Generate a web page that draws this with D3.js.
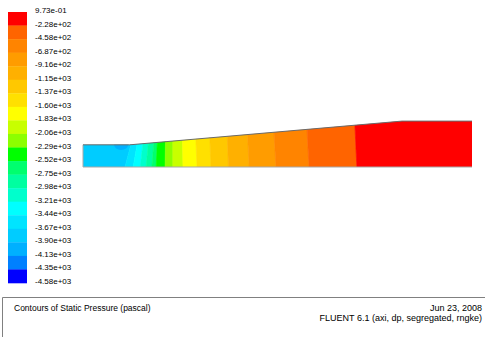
<!DOCTYPE html>
<html>
<head>
<meta charset="utf-8">
<script src="https://cdn.jsdelivr.net/npm/d3@7"></script>
<style>
  html, body { margin: 0; padding: 0; background: #fff; }
  svg { display: block; }
  text { font-family: "Liberation Sans", Arial, sans-serif; fill: #000; }
</style>
</head>
<body>
<svg id="chart" width="485" height="337"></svg>
<script>
// Contour levels of static pressure (pascal), top of the colour bar first
const levels = [0.973, -228, -458, -687, -916, -1150, -1370, -1600, -1830, -2060,
  -2290, -2520, -2750, -2980, -3210, -3440, -3670, -3900, -4130, -4350, -4580];
const levelLabels = ["9.73e-01", "-2.28e+02", "-4.58e+02", "-6.87e+02", "-9.16e+02",
  "-1.15e+03", "-1.37e+03", "-1.60e+03", "-1.83e+03", "-2.06e+03", "-2.29e+03",
  "-2.52e+03", "-2.75e+03", "-2.98e+03", "-3.21e+03", "-3.44e+03", "-3.67e+03",
  "-3.90e+03", "-4.13e+03", "-4.35e+03", "-4.58e+03"];
// One colour per band between consecutive levels
const bandColors = ["#ff0000", "#ff6400", "#ff8400", "#ff9c00", "#ffb000", "#ffc800",
  "#ffe000", "#ffff00", "#c8ff00", "#8cff00", "#00ff00", "#00ff6e", "#00ffa0",
  "#00ffcc", "#00ffff", "#00e4ff", "#00ccff", "#00b0ff", "#0080ff", "#0000ff"];

// Axisymmetric duct wall (axial position x and radius r, mm)
const wallX = [0, 120, 820, 1000];
const wallR = [57, 57, 118, 118];

// Isobars crossing the duct: level, axial position on the axis and on the wall
const isobarLevels = [-3670, -3440, -3210, -2980, -2750, -2520, -2290, -2060,
  -1830, -1600, -1370, -1150, -916, -687, -458, -228];
const isobarAxisX = [108, 129, 147, 162, 177, 188, 211, 231, 257, 293, 329, 374, 427, 496, 581, 704];
const isobarWallX = [123, 139, 154, 168, 182, 191, 212, 231, 256, 290, 326, 371, 423, 491, 576, 699];

// Low-pressure pocket at the start of the diffuser wall
const pocket = { x: 98, r: 57, dx: 18, dr: 13, p: -3950 };

const svg = d3.select("#chart");

const x = d3.scaleLinear().domain([0, 1000]).range([83, 472]);
const r = d3.scaleLinear().domain([0, 118]).range([167, 121.1]);
const rTop = 130;

const wallAt = xv => d3.scaleLinear().domain(wallX).range(wallR)(xv);

// colour band holding pressure p
function bandOf(p) {
  for (let i = 0; i < bandColors.length; i++) {
    if (p <= levels[i] && p >= levels[i + 1]) return i;
  }
  return p > levels[0] ? 0 : bandColors.length - 1;
}

const line = d3.line().x(d => x(d[0])).y(d => r(d[1]));

// clip region: the duct cross-section
const outline = [[0, 0]].concat(wallX.map((v, i) => [v, wallR[i]])).concat([[1000, 0]]);
svg.append("defs").append("clipPath").attr("id", "duct")
  .append("path").attr("d", line(outline) + "Z");

// edges between bands
const edges = [[[0, 0], [0, rTop]]].concat(isobarLevels.map((lv, j) => [
  [isobarAxisX[j], 0],
  [isobarWallX[j], wallAt(isobarWallX[j])],
  [isobarWallX[j], rTop]
])).concat([[[1000, 0], [1000, rTop]]]);

const bounds = [levels[17]].concat(isobarLevels).concat([levels[0]]);
const regions = [];
for (let k = 0; k < edges.length - 1; k++) {
  const pts = edges[k].concat(edges[k + 1].slice().reverse());
  const pMid = (bounds[k] + bounds[k + 1]) / 2;
  regions.push({ pts, band: bandOf(pMid) });
}

const field = svg.append("g").attr("clip-path", "url(#duct)");
field.selectAll("path.band").data(regions).join("path")
  .attr("class", "band")
  .attr("d", d => line(d.pts) + "Z")
  .attr("fill", d => bandColors[d.band])
  .attr("stroke", d => bandColors[d.band])
  .attr("stroke-width", 0.6);

field.append("ellipse")
  .attr("cx", x(pocket.x))
  .attr("cy", r(pocket.r))
  .attr("rx", x(pocket.dx) - x(0))
  .attr("ry", r(0) - r(pocket.dr))
  .attr("fill", bandColors[bandOf(pocket.p)]);

// duct boundaries
svg.append("path")
  .attr("d", line([[0, 0], [0, wallR[0]]]) + line([[0, 0], [1000, 0]]))
  .attr("fill", "none").attr("stroke", "#a8a8a8").attr("stroke-width", 1);
svg.append("path")
  .attr("d", line(wallX.map((v, i) => [v, wallR[i]])))
  .attr("fill", "none").attr("stroke", "#6a6a6a").attr("stroke-width", 1);

// colour bar
const yBar = d3.scaleLinear().domain([0, bandColors.length]).range([12, 283]);
const bar = svg.append("g");
bar.selectAll("rect").data(bandColors).join("rect")
  .attr("x", 8).attr("width", 19)
  .attr("y", (d, i) => yBar(i))
  .attr("height", (d, i) => yBar(i + 1) - yBar(i) + 0.3)
  .attr("fill", d => d);
bar.selectAll("text").data(levelLabels).join("text")
  .attr("x", 35)
  .attr("y", (d, i) => yBar(i) + 1)
  .attr("font-size", 8)
  .text(d => d);

// title block
svg.append("path")
  .attr("d", "M2.5,337 V297.5 H485")
  .attr("fill", "none").attr("stroke", "#808080").attr("stroke-width", 1);
svg.append("text").attr("x", 14).attr("y", 311).attr("font-size", 8.5)
  .text("Contours of Static Pressure (pascal)");
svg.append("text").attr("x", 482).attr("y", 311).attr("font-size", 9)
  .attr("text-anchor", "end").text("Jun 23, 2008");
svg.append("text").attr("x", 482).attr("y", 321).attr("font-size", 9)
  .attr("text-anchor", "end").text("FLUENT 6.1 (axi, dp, segregated, rngke)");
</script>
</body>
</html>
